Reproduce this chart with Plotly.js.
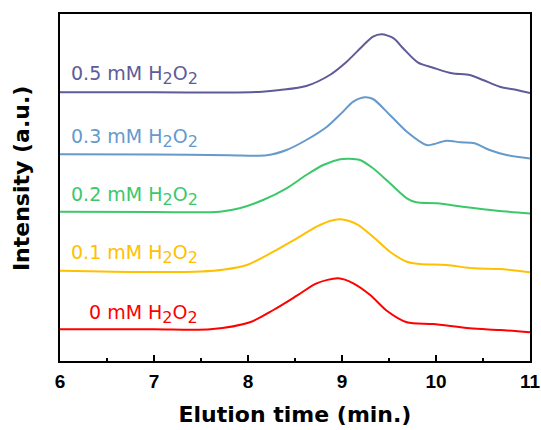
<!DOCTYPE html>
<html>
<head>
<meta charset="utf-8">
<script src="https://cdn.plot.ly/plotly-3.0.1.min.js"></script>
<style>html,body{margin:0;padding:0;background:#fff;}#chart{width:541px;height:430px;}</style>
</head>
<body>
<div id="chart"></div>
<script>
// Elution time (min.)
var time05 = [6.0, 7.0, 7.8, 8.15, 8.34, 8.62, 8.87, 9.05, 9.23, 9.33, 9.42, 9.55, 9.65, 9.81, 9.97, 10.17, 10.36, 10.50, 10.68, 10.86, 11.0];
var int05  = [268.7, 268.7, 268.5, 269.3, 271, 275, 286, 299.3, 316, 324.3, 326.7, 322.7, 312.7, 298.3, 293.3, 287.7, 286, 281, 274.3, 271, 268];

var time03 = [6.0, 7.0, 7.8, 8.2, 8.41, 8.62, 8.84, 9.01, 9.12, 9.24, 9.33, 9.51, 9.69, 9.90, 9.97, 10.11, 10.26, 10.41, 10.57, 10.75, 11.0];
var int03  = [206.7, 206.5, 205.7, 205.7, 211, 221, 234.3, 249.3, 259.3, 263.7, 262, 246, 229.3, 216, 216.7, 220.3, 218.7, 217.7, 211, 206, 202.5];

var time02 = [6.0, 7.0, 7.7, 7.91, 8.16, 8.41, 8.62, 8.80, 8.98, 9.08, 9.19, 9.33, 9.51, 9.69, 9.79, 10.01, 10.33, 10.65, 11.0];
var int02  = [149.3, 149, 149.3, 152.7, 161, 172.7, 186, 196, 201.7, 202.3, 201, 192.7, 177.7, 162.7, 158.7, 157.7, 153.7, 150.3, 147.5];

var time01 = [6.0, 6.9, 7.5, 7.75, 7.99, 8.27, 8.52, 8.73, 8.87, 8.98, 9.16, 9.33, 9.51, 9.69, 9.83, 10.11, 10.40, 10.68, 11.0];
var int01  = [90.3, 89, 89.5, 91.5, 96, 109.3, 122.7, 134.3, 140, 141.7, 136.7, 124.3, 109.3, 99.3, 97, 96, 92.7, 92, 88.7];

var time00 = [6.0, 7.0, 7.6, 8.02, 8.27, 8.52, 8.73, 8.96, 9.12, 9.30, 9.48, 9.69, 9.97, 10.36, 10.68, 11.0];
var int00  = [31.7, 31.7, 31.7, 38.7, 51, 65.3, 77.7, 82.7, 77.7, 66, 50, 38.7, 37, 32.7, 31, 28.7];

var seriesNames = ['0 mM H<sub>2</sub>O<sub>2</sub>', '0.1 mM H<sub>2</sub>O<sub>2</sub>', '0.2 mM H<sub>2</sub>O<sub>2</sub>', '0.3 mM H<sub>2</sub>O<sub>2</sub>', '0.5 mM H<sub>2</sub>O<sub>2</sub>'];
var seriesColors = ['#FF0000', '#FFC000', '#3CC86A', '#6699CC', '#5E5B98'];
var labelX = [6.29, 6.098, 6.098, 6.098, 6.098];
var labelY = [47.5, 107, 165, 223, 286.5];
var xTickVals = [6, 7, 8, 9, 10, 11];

var times = [time00, time01, time02, time03, time05];
var ints = [int00, int01, int02, int03, int05];

var traces = times.map(function(t, i) {
  return {
    x: t, y: ints[i], type: 'scatter', mode: 'lines',
    name: seriesNames[i],
    line: {color: seriesColors[i], width: 2, shape: 'spline', smoothing: 0.8},
    hoverinfo: 'skip', showlegend: false
  };
});

var annotations = seriesNames.map(function(n, i) {
  return {
    x: labelX[i], y: labelY[i], xref: 'x', yref: 'y',
    text: n.replace(/<sub>2<\/sub>/g, '<sub><span style="font-size:16px">2</span></sub>'),
    showarrow: false, xanchor: 'left', yanchor: 'middle',
    font: {family: 'DejaVu Sans', size: 19, color: seriesColors[i]}
  };
});
annotations.push({
  x: -0.083, y: 0.527, xref: 'paper', yref: 'paper',
  text: 'Intensity (a.u.)', textangle: -90, showarrow: false,
  xanchor: 'center', yanchor: 'middle',
  font: {family: 'DejaVu Sans', size: 22, color: '#000', weight: 'bold'}
});

var layout = {
  width: 541, height: 430,
  margin: {l: 60, r: 11, t: 14, b: 69},
  paper_bgcolor: '#fff', plot_bgcolor: '#fff',
  showlegend: false,
  xaxis: {
    range: [6, 11], tickvals: xTickVals, ticktext: xTickVals.map(String),
    ticks: 'inside', ticklen: 6, tickwidth: 2, tickcolor: '#000',
    minor: {dtick: 0.5, ticks: 'inside', ticklen: 3, tickwidth: 2, tickcolor: '#000', showgrid: false},
    showline: true, linewidth: 2, linecolor: '#000', mirror: true,
    showgrid: false, zeroline: false,
    ticklabeloverflow: 'allow', ticklabelstandoff: 2,
    tickfont: {family: 'Liberation Sans', size: 19, color: '#000', weight: 'bold'},
    title: {text: 'Elution time (min.)', standoff: 16, font: {family: 'DejaVu Sans', size: 22, color: '#000', weight: 'bold'}}
  },
  yaxis: {
    range: [0, 347], showticklabels: false, ticks: '',
    showline: true, linewidth: 2, linecolor: '#000', mirror: true,
    showgrid: false, zeroline: false
  },
  annotations: annotations
};

Plotly.newPlot('chart', traces, layout, {displayModeBar: false, staticPlot: true});
</script>
</body>
</html>
